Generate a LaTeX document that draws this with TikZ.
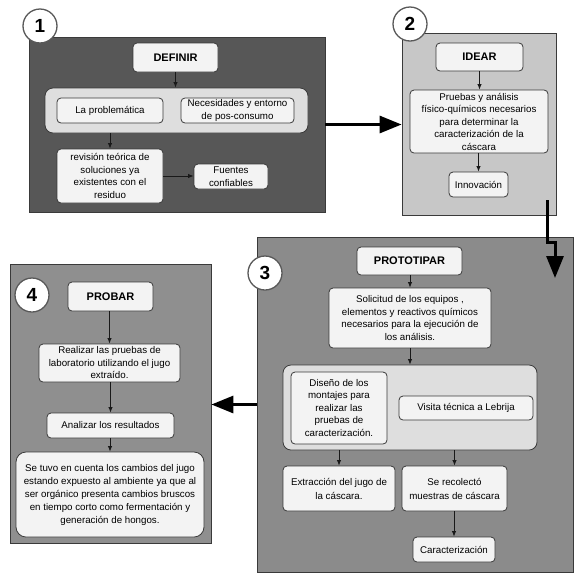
\documentclass[tikz,border=0pt]{standalone}
\usepackage{fontspec}
\setmainfont{Liberation Sans}
\usetikzlibrary{arrows.meta}
\definecolor{bordc}{HTML}{3A3A3A}
\definecolor{boxc}{HTML}{F3F3F3}
\definecolor{grpc}{HTML}{DEDEDE}
\definecolor{pone}{HTML}{575757}
\definecolor{ptwo}{HTML}{C7C7C7}
\definecolor{pthree}{HTML}{8B8B8B}
\definecolor{pfour}{HTML}{8F8F8F}
\begin{document}
\begin{tikzpicture}[x=1pt,y=-1pt,
  panel/.style={draw=bordc, line width=0.8pt, inner sep=0pt},
  sz/.style 2 args={minimum width=#1, minimum height=#2},
  bx/.style={draw=bordc, fill=boxc, line width=0.8pt, rounded corners=4pt, align=center, inner sep=1pt,
    font=\fontsize{9.75}{12.5}\selectfont},
  ttl/.style={bx, font=\fontsize{11}{13}\selectfont\bfseries},
  grp/.style={draw=bordc, fill=grpc, line width=0.8pt, rounded corners=8pt, inner sep=0pt},
  num/.style={circle, draw=black!65, fill=white, line width=1.3pt, minimum size=34pt, inner sep=0pt,
    font=\fontsize{19}{19}\selectfont\bfseries},
  arr/.style={-{Latex[length=5.5pt,width=4.5pt]}, line width=0.9pt, black!90},
  big/.style={-{Triangle[length=22pt,width=17pt]}, line width=3pt, black},
]
\useasboundingbox (0,0) rectangle (588,579);
\fill[white] (0,0) rectangle (588,579);

% panels
\node[panel, fill=pone, sz={296}{175}] (p1) at (177,124.5) {};
\node[panel, fill=ptwo, sz={154}{182}] (p2) at (479,124) {};
\node[panel, fill=pthree, sz={316}{335}] (p3) at (415,404.5) {};
\node[panel, fill=pfour, sz={201}{279}] (p4) at (110.5,403.5) {};

% numbers
\node[num] (n1) at (40,26) {1};
\node[num] (n2) at (410,24) {2};
\node[num] (n3) at (265,273) {3};
\node[num] (n4) at (32,295) {4};

% panel 1
\node[ttl, sz={85}{29}] (def) at (175.5,57.5) {DEFINIR};
\node[grp, sz={263}{45}] (g1) at (176.5,110.5) {};
\node[bx, sz={106}{25}] (prob) at (110,110.5) {La problemática};
\node[bx, sz={113}{25}] (nec) at (237.5,110.5) {Necesidades y entorno\\de pos-consumo};
\node[bx, sz={106}{54}] (rev) at (110,176) {revisión teórica de\\soluciones ya\\existentes con el\\residuo};
\node[bx, sz={74}{25}] (fue) at (231,176.5) {Fuentes\\confiables};

% panel 2
\node[ttl, sz={87}{28}] (ide) at (479.5,57) {IDEAR};
\node[bx, sz={138}{63}] (pru) at (479,121.5) {Pruebas y análisis\\físico-químicos necesarios\\para determinar la\\caracterización de la\\cáscara};
\node[bx, sz={59}{25}] (inn) at (478.5,184.5) {Innovación};

% panel 3
\node[ttl, sz={105}{28}] (pro) at (409.5,261) {PROTOTIPAR};
\node[bx, sz={162}{60}] (sol) at (410,318) {Solicitud de los equipos ,\\elementos y reactivos químicos\\necesarios para la ejecución de\\los análisis.};
\node[grp, sz={254}{85}] (g3) at (410,407.5) {};
\node[bx, sz={96}{72}] (dis) at (339,408) {Diseño de los\\montajes para\\realizar las\\pruebas de\\caracterización.};
\node[bx, sz={134}{24}] (vis) at (466,408) {Visita técnica a Lebrija};
\node[bx, sz={112}{45}, font=\fontsize{9.75}{14}\selectfont] (ext) at (339,488.5) {Extracción del jugo de\\la cáscara.};
\node[bx, sz={105}{45}, font=\fontsize{9.75}{14}\selectfont] (rec) at (454.5,488.5) {Se recolectó\\muestras de cáscara};
\node[bx, sz={82}{25}] (car) at (454,549.5) {Caracterización};

% panel 4
\node[ttl, sz={85}{29}] (pba) at (110.5,296.5) {PROBAR};
\node[bx, sz={141}{38}] (rea) at (109.5,363) {Realizar las pruebas de\\laboratorio utilizando el jugo\\extraído.};
\node[bx, sz={127}{25}] (ana) at (110.5,425.5) {Analizar los resultados};
\node[bx, sz={188}{85}, rounded corners=10pt, font=\fontsize{9.75}{13}\selectfont] (tuv) at (110,494.5) {Se tuvo en cuenta los cambios del jugo\\estando expuesto al ambiente ya que al\\ser orgánico presenta cambios bruscos\\en tiempo corto como fermentación y\\generación de hongos.};

% connectors panel 1
\draw[arr] (def.south) -- (def.south |- g1.north);
\draw[arr] (g1.south -| rev.north) -- (rev.north);
\draw[arr] (rev.east) -- (rev.east -| fue.west);
% panel 2
\draw[arr] (ide.south) -- (ide.south |- pru.north);
\draw[arr] (pru.south -| inn.north) -- (inn.north);
% panel 3
\draw[arr] (pro.south -| sol.north) -- (sol.north);
\draw[arr] (sol.south) -- (sol.south |- g3.north);
\draw[arr] (g3.south -| ext.north) -- (ext.north);
\draw[arr] (g3.south -| rec.north) -- (rec.north);
\draw[arr] (rec.south -| car.north) -- (car.north);
% panel 4
\draw[arr] (pba.south -| rea.north) -- (rea.north);
\draw[arr] (rea.south -| ana.north) -- (ana.north);
\draw[arr] (ana.south -| tuv.north) -- (tuv.north);

% big connectors between phases
\draw[big] (p1.east) -- (p1.east -| p2.west);
\coordinate (c23s) at (547,200);
\coordinate (c23e) at (555,278);
\draw[big] (c23s) -- (547,242) -- (555,242) -- (c23e);
\draw[big] (p3.west) -- (p3.west -| p4.east);
\end{tikzpicture}
\end{document}
